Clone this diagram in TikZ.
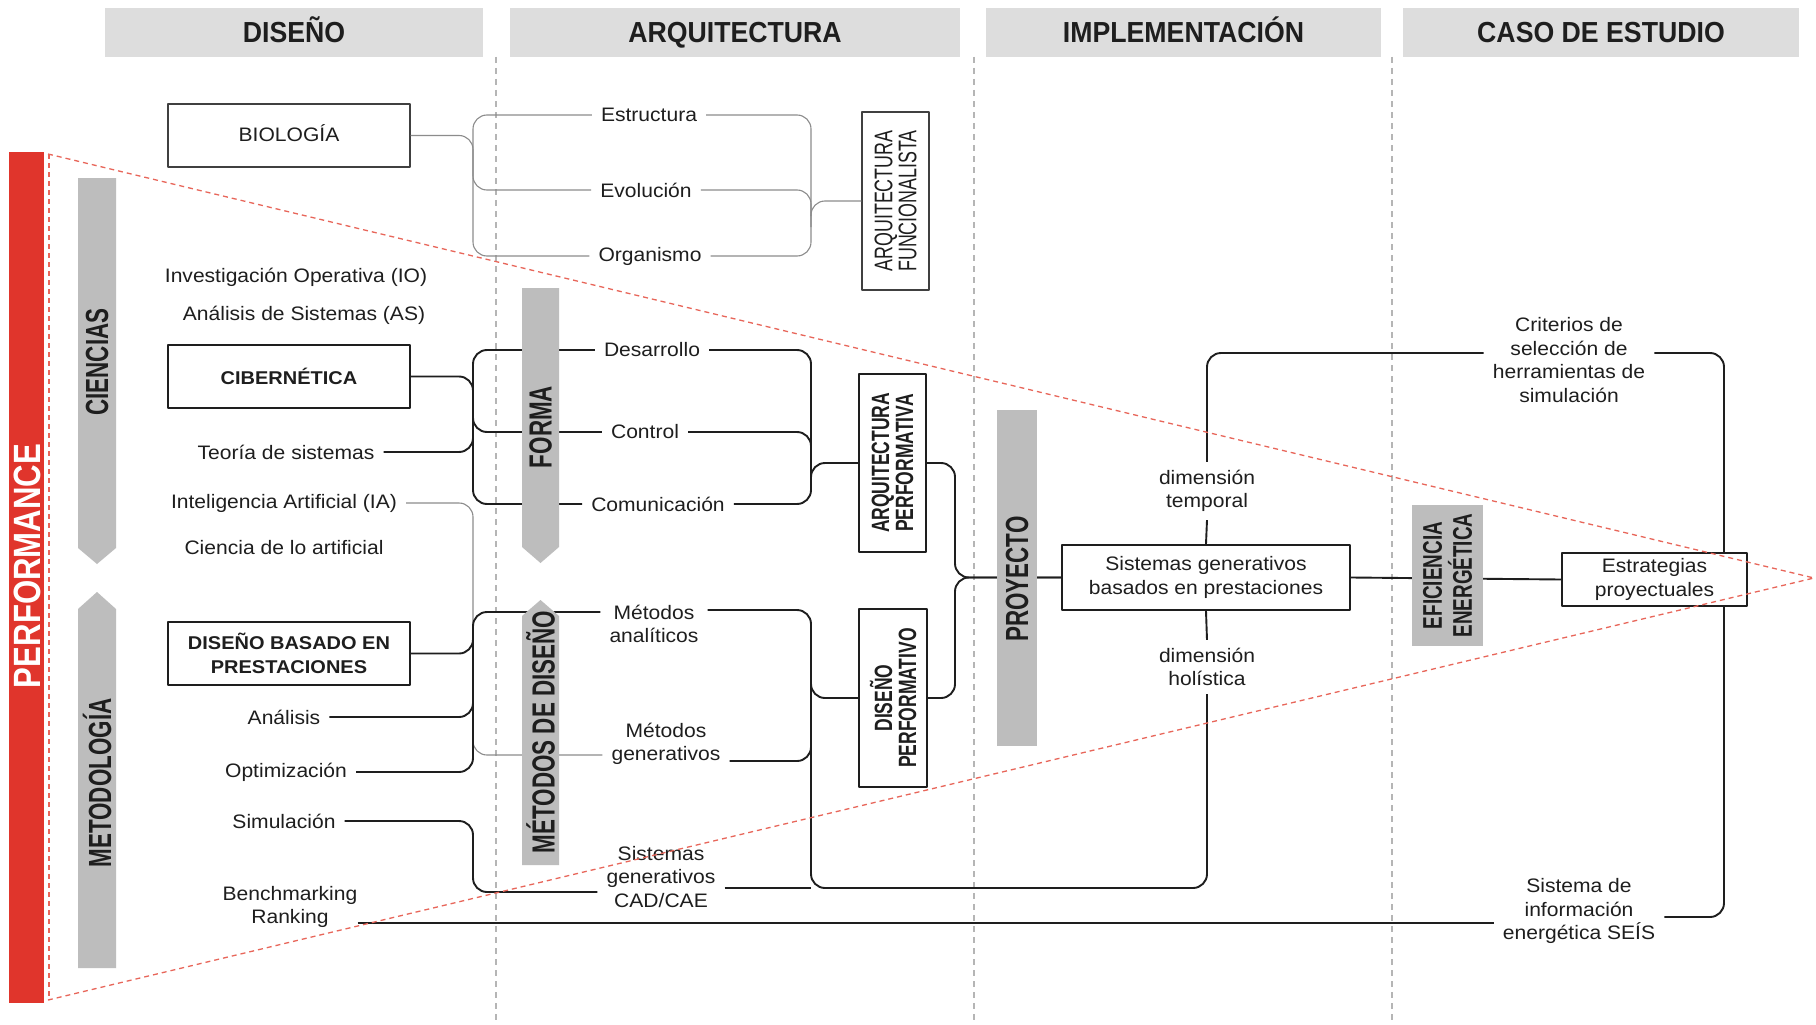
\documentclass[tikz,border=0pt]{standalone}
\usepackage{fontspec}
\setmainfont{Liberation Sans}[FakeStretch=1.08]
\newfontfamily\headfont{Liberation Sans}[FakeStretch=0.92]
\newfontfamily\narrowfont{Liberation Sans}[FakeStretch=0.7]
\newfontfamily\perffont{Liberation Sans}[FakeStretch=0.82]
\usetikzlibrary{calc}

\definecolor{ink}{HTML}{1E1E1E}
\definecolor{headgray}{HTML}{DDDDDD}
\definecolor{bargray}{HTML}{BDBDBD}
\definecolor{perfred}{HTML}{E0352C}
\definecolor{dashred}{HTML}{E8665A}
\definecolor{sepgray}{HTML}{B5B5B5}
\definecolor{thingray}{HTML}{8C8C8C}

\tikzset{
  txt/.style={font=\fontsize{19.5}{23.5}\selectfont, text=ink, align=center, inner xsep=9pt, inner ysep=2pt},
  hdr/.style={fill=headgray, text=ink, font={\headfont\bfseries\fontsize{29}{30}\selectfont},
             minimum height=49pt, inner sep=0pt, text height=21pt, text depth=0pt},
  bx/.style={draw=ink, line width=2.3pt, fill=white, text=ink, align=center, inner sep=0pt,
             font=\fontsize{18.5}{24.5}\selectfont\bfseries},
  plainbx/.style={draw=ink, line width=2.3pt, fill=white, text=ink, align=center, inner sep=0pt,
             font=\fontsize{19.5}{23.5}\selectfont},
  thinbx/.style={draw=ink!85, line width=1.4pt, fill=white, text=ink, align=center, inner sep=0pt,
             font=\fontsize{19.5}{23.5}\selectfont, text height=14.5pt, text depth=3.5pt},
  vlbl/.style={rotate=90, text=ink, align=center, inner sep=0pt,
             font={\narrowfont\bfseries\fontsize{25}{24}\selectfont}},
  vlblreg/.style={rotate=90, text=ink, align=center, inner sep=0pt,
             font={\narrowfont\fontsize{25.5}{24}\selectfont}},
  barlbl/.style={rotate=90, text=ink, inner sep=0pt, align=center,
             font={\narrowfont\bfseries\fontsize{32}{34}\selectfont}},
  conn/.style={draw=ink, line width=1.9pt, rounded corners=14pt},
  thinc/.style={draw=thingray, line width=1.1pt, rounded corners=14pt},
  bar/.style={fill=bargray},
  sep/.style={draw=sepgray, line width=1.3pt, dash pattern=on 6pt off 5pt},
  reddash/.style={draw=dashred, line width=1.3pt, dash pattern=on 5pt off 4pt},
}

\begin{document}
\begin{tikzpicture}[x=1pt, y=-1pt, line join=round]
\fill[white] (0,0) rectangle (1816,1025);
\useasboundingbox (0,0) rectangle (1816,1025);

% column headers
\node[hdr, minimum width=378pt] (h1) at (294,32.5) {DISEÑO};
\node[hdr, minimum width=450pt] (h2) at (735,32.5) {ARQUITECTURA};
\node[hdr, minimum width=395pt] (h3) at (1183.5,32.5) {IMPLEMENTACIÓN};
\node[hdr, minimum width=396pt] (h4) at (1601,32.5) {CASO DE ESTUDIO};

% column separators
\draw[sep] (496,57) -- (496,1025);
\draw[sep] (974,57) -- (974,1025);
\draw[sep] (1392,57) -- (1392,1025);

% performance band
\fill[perfred] (9,152) rectangle (44,1003);
\node[rotate=90, text=white, inner sep=0pt, font={\perffont\bfseries\fontsize{38}{40}\selectfont}] (perf) at (27,566) {PERFORMANCE};

% trunk positions
\coordinate (xL) at (473,0);
\coordinate (xR) at (811,0);
\coordinate (xP) at (955,0);
\coordinate (xE) at (1724,0);

% boxes
\node[thinbx, minimum width=242pt, minimum height=63pt] (bio) at (289,135.5) {BIOLOGÍA};
\node[bx, minimum width=242pt, minimum height=63pt] (cib) at (289,376.5) {CIBERNÉTICA};
\node[bx, minimum width=242pt, minimum height=63pt] (dbp) at (289,653.5) {DISEÑO BASADO EN\\PRESTACIONES};
\node[draw=ink!85, line width=1.4pt, fill=white, minimum width=67pt, minimum height=178pt] (af) at (895.5,201) {};
\node[vlblreg] (af-t) at (af) {ARQUITECTURA\\FUNCIONALISTA};
\node[draw=ink, line width=2.3pt, fill=white, minimum width=67pt, minimum height=178pt] (ap) at (892.5,463) {};
\node[vlbl] (ap-t) at (ap) {ARQUITECTURA\\PERFORMATIVA};
\node[draw=ink, line width=2.3pt, fill=white, minimum width=68pt, minimum height=178pt] (dp) at (893,698) {};
\node[vlbl] (dp-t) at (dp) {DISEÑO\\PERFORMATIVO};
\node[plainbx, minimum width=288pt, minimum height=65pt] (sg) at (1206,577.5) {Sistemas generativos\\basados en prestaciones};
\node[plainbx, minimum width=185pt, minimum height=53pt] (ep) at (1654.5,579.5) {Estrategias\\proyectuales};

% free texts, left column
\node[txt] (io) at (296,277) {Investigación Operativa (IO)};
\node[txt] (as) at (304,315) {Análisis de Sistemas (AS)};
\node[txt] (teo) at (286,452) {Teoría de sistemas};
\node[txt] (ia) at (284,503) {Inteligencia Artificial (IA)};
\node[txt] (cda) at (284,548) {Ciencia de lo artificial};
\node[txt] (ana) at (284,717) {Análisis};
\node[txt] (opt) at (286,772) {Optimización};
\node[txt] (sim) at (284,821) {Simulación};
\node[txt, inner xsep=0pt] (bench) at (290,907) {Benchmarking\\Ranking};

% free texts, middle column
\node[txt] (est) at (649,115) {Estructura};
\node[txt] (evo) at (646,190) {Evolución};
\node[txt] (org) at (650,256) {Organismo};
\node[txt] (des) at (652,350) {Desarrollo};
\node[txt] (con) at (645,432) {Control};
\node[txt] (com) at (658,504) {Comunicación};
\node[txt] (ma) at (654,624) {Métodos\\analíticos};
\node[txt] (mg) at (666,744) {Métodos\\generativos};
\node[txt] (cad) at (661,877) {Sistemas\\generativos\\CAD/CAE};

% free texts, right columns
\node[txt, inner ysep=8pt] (dt) at (1207,491) {dimensión\\temporal};
\node[txt, inner ysep=8pt] (dh) at (1207,667) {dimensión\\holística};
\node[txt] (crit) at (1569,360) {Criterios de\\selección de\\herramientas de\\simulación};
\node[txt] (seis) at (1579,911) {Sistema de\\información\\energética SEÍS};

% attachment points on multi-line texts
\coordinate (maL) at ($(ma.west)+(0,-12)$);
\coordinate (maR) at ($(ma.east)+(0,-14)$);
\coordinate (mgL) at ($(mg.west)+(0,11)$);
\coordinate (mgR) at ($(mg.east)+(0,17)$);
\coordinate (cadL) at ($(cad.west)+(0,15)$);
\coordinate (cadR) at ($(cad.east)+(0,11)$);
\coordinate (critL) at ($(crit.west)+(0,-7)$);
\coordinate (critR) at ($(crit.east)+(0,-7)$);
\coordinate (seisR) at ($(seis.east)+(0,6)$);
\coordinate (benchR) at ($(bench.east)+(0,16)$);

% biology branch (thin)
\draw[thinc] (bio.east) -- (bio.east -| xL) -- (evo.west -| xL) -- (evo.west);
\draw[thinc] (est.west) -- (est.west -| xL) -- (org.west -| xL) -- (org.west);
\draw[thinc] (est.east) -- (est.east -| xR) -- (org.east -| xR) -- (org.east);
\draw[thinc] (evo.east) -- (evo.east -| xR) -- ++(0,26);
\draw[thinc] (af.west) -- (af.west -| xR) -- ++(0,26);

% cybernetics branch
\draw[conn] (des.west) -- (des.west -| xL) -- (com.west -| xL) -- (com.west);
\draw[conn] (cib.east) -- (cib.east -| xL) -- ++(0,28);
\draw[conn] (teo.east) -- (teo.east -| xL) -- ++(0,-28);
\draw[conn] (con.west) -- (con.west -| xL) -- ++(0,-28);
\draw[conn] (des.east) -- (des.east -| xR) -- (com.east -| xR) -- (com.east);
\draw[conn] (con.east) -- (con.east -| xR) -- ++(0,28);
\draw[conn] (ap.west) -- (ap.west -| xR) -- ++(0,28);

% design methods branch
\draw[thinc] (ia.east) -- (ia.east -| xL) -- (mgL -| xL) -- (mgL);
\draw[conn] (maL) -- (maL -| xL) -- (opt.east -| xL) -- (opt.east);
\draw[conn] (dbp.east) -- (dbp.east -| xL) -- ++(0,-28);
\draw[conn] (ana.east) -- (ana.east -| xL) -- ++(0,-28);
\draw[conn] (sim.east) -- (sim.east -| xL) -- (cadL -| xL) -- (cadL);
\draw[conn] (maR) -- (maR -| xR) -- (cadR -| xR) -- (cadR -| dh.south) -- (dh.south);
\draw[conn] (cadR) -- (cadR -| xR);
\draw[conn] (mgR) -- (mgR -| xR) -- ++(0,-28);
\draw[conn] (dp.west) -- (dp.west -| xR) -- ++(0,-28);

% project
\draw[conn] (ap.east) -- (ap.east -| xP) -- (sg.west -| xP) -- (sg.west);
\draw[conn] (dp.east) -- (dp.east -| xP) -- (sg.west -| xP) -- (sg.west);
\draw[conn] (sg.east) -- (ep.west);
\draw[conn] (sg.north) -- (dt.south);
\draw[conn] (sg.south) -- (dh.north);
\draw[conn] (dt.north) -- (dt.north |- critL) -- (critL);
\draw[conn] (critR) -- (critR -| xE) -- (ep.north -| xE);
\draw[conn] (ep.south -| xE) -- (seisR -| xE) -- (seisR);
\draw[conn] (benchR) -- (benchR -| seis.west);

% grey arrow bands
\fill[bar] (78,178) -- (116,178) -- (116,548) -- (97,564) -- (78,548) -- cycle;
\node[barlbl] (ciencias) at (97,362) {CIENCIAS};
\fill[bar] (97,592) -- (116,609) -- (116,968) -- (78,968) -- (78,609) -- cycle;
\node[barlbl] (metodologia) at (97,783) {METODOLOGÍA};
\fill[bar] (522,288) -- (559,288) -- (559,547) -- (540.5,563) -- (522,547) -- cycle;
\node[barlbl] (forma) at (540.5,427) {FORMA};
\fill[bar] (540.5,600) -- (559,616) -- (559,865) -- (522,865) -- (522,616) -- cycle;
\node[barlbl] (metodos) at (540.5,732) {MÉTODOS DE DISEÑO};
\fill[bar] (997,410) rectangle (1037,746);
\node[barlbl] (proyecto) at (1017,579) {PROYECTO};
\fill[bar] (1412,505) rectangle (1483,646);
\node[barlbl, font={\narrowfont\bfseries\fontsize{27}{30}\selectfont}] (efi) at (1447.5,575.5) {EFICIENCIA\\ENERGÉTICA};

% performance wedge
\draw[reddash] (48,154) -- (1814,578) -- (48,1000);
\draw[reddash] (49,154) -- (49,1000);
\end{tikzpicture}
\end{document}
